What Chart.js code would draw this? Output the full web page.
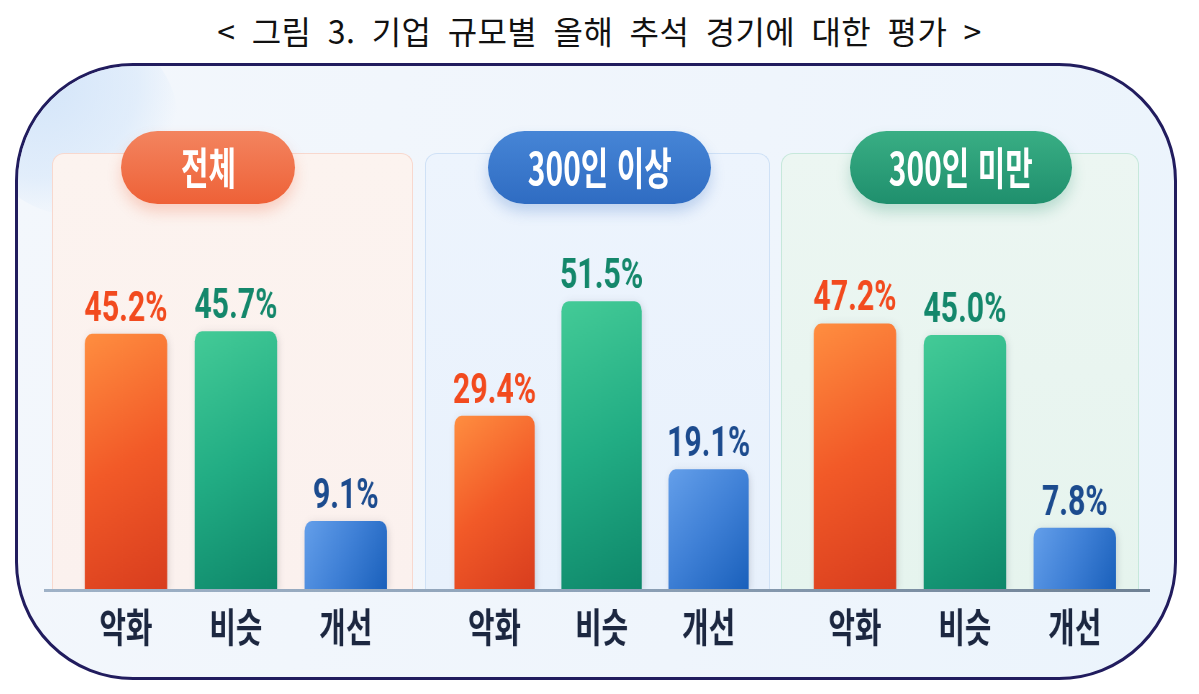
<!DOCTYPE html>
<html lang="ko">
<head>
<meta charset="utf-8">
<script src="https://cdn.jsdelivr.net/npm/chart.js@4.4.1/dist/chart.umd.min.js"></script>
<style>
  html,body{margin:0;padding:0;background:#fff;}
  body{width:1199px;height:694px;position:relative;overflow:hidden;font-family:"Noto Sans CJK KR","Noto Sans",sans-serif;}
  #title{position:absolute;left:0;top:5px;width:1199px;text-align:center;font-size:32px;font-weight:400;color:#111;word-spacing:7px;letter-spacing:0.4px;line-height:50px;}
  #box{position:absolute;left:15px;top:63px;width:1162px;height:617px;box-sizing:border-box;border:3px solid #211c5e;border-radius:118px;overflow:hidden;
       background:linear-gradient(100deg,#f3f7fc 0%,#eff5fc 60%,#ebf4fc 100%);}
  #deco{position:absolute;left:-40px;top:-40px;width:200px;height:190px;border-radius:50%;
        background:radial-gradient(ellipse at 30% 30%,rgba(208,227,249,0.9) 0%,rgba(214,231,250,0.6) 50%,rgba(235,243,252,0) 72%);}
  .panel{position:absolute;top:153px;height:437px;box-sizing:border-box;border:1.5px solid;border-bottom:none;border-radius:12px 12px 0 0;}
  #p1{left:52px;width:361px;background:linear-gradient(180deg,#fcf3ef,#fbf1ee);border-color:#f8d8ce;}
  #p2{left:425px;width:345px;background:linear-gradient(180deg,#edf4fd,#e8f1fc);border-color:#cfe1f6;}
  #p3{left:781px;width:358px;background:linear-gradient(180deg,#ecf6f2,#e6f4ee);border-color:#c6e8db;}
  .pill{position:absolute;top:131px;height:73px;border-radius:37px;display:flex;align-items:center;justify-content:center;color:#fff;font-size:44px;font-weight:700;z-index:3;}
  .pill span{display:inline-block;transform:scaleX(0.68);white-space:nowrap;line-height:1;margin-top:-4px;}
  #h1{left:121px;width:174px;background:linear-gradient(180deg,#f3845f,#ee6137);box-shadow:0 8px 14px rgba(238,100,60,0.25);}
  #h2{left:488px;width:223px;background:linear-gradient(180deg,#4685d6,#2f6cc2);box-shadow:0 8px 14px rgba(47,108,194,0.25);}
  #h3{left:850px;width:222px;background:linear-gradient(180deg,#39ae84,#1f8f6d);box-shadow:0 8px 14px rgba(31,143,109,0.25);}
  .cw{position:absolute;top:226px;height:439px;z-index:2;}
  .cw canvas{transform-origin:0 0;transform:scaleX(0.72);}
  #baseline{position:absolute;left:44px;top:589px;width:1106px;height:3px;background:linear-gradient(90deg,#9fb2c7,#8ea2b8 50%,#6f8194);z-index:4;}
</style>
</head>
<body>
<div id="title">&lt; 그림 3. 기업 규모별 올해 추석 경기에 대한 평가 &gt;</div>
<div id="box"><div id="deco"></div></div>
<div class="panel" id="p1"></div>
<div class="panel" id="p2"></div>
<div class="panel" id="p3"></div>
<div class="pill" id="h1"><span>전체</span></div>
<div class="pill" id="h2"><span>300인 이상</span></div>
<div class="pill" id="h3"><span>300인 미만</span></div>
<div class="cw" id="w1" style="left:71px;width:330px;"><canvas id="c1" width="458" height="439"></canvas></div>
<div class="cw" id="w2" style="left:441px;width:321px;"><canvas id="c2" width="446" height="439"></canvas></div>
<div class="cw" id="w3" style="left:800px;width:330px;"><canvas id="c3" width="458" height="439"></canvas></div>
<div id="baseline"></div>
<script>
// ---- data ----
const categories = ['악화', '비슷', '개선'];
const groupNames = ['전체', '300인 이상', '300인 미만'];
const totalValues = [45.2, 45.7, 9.1];
const over300Values = [29.4, 51.5, 19.1];
const under300Values = [47.2, 45.0, 7.8];

// ---- styles ----
const gradStops = [
  ['#ff8e40', '#f25a28', '#d83d1e'],
  ['#44cb97', '#22ad84', '#0e876a'],
  ['#649fea', '#3f80d6', '#1a60bb']
];
const labelColors = ['#f24a1e', '#14876b', '#1c4b8e'];
const Y_MIN = -4, Y_MAX = 66;

Chart.defaults.font.family = '"Noto Sans CJK KR","Noto Sans",sans-serif';

const valueLabels = {
  id: 'valueLabels',
  beforeDatasetsDraw(chart) {
    const ctx = chart.ctx;
    ctx.save();
    ctx.shadowColor = 'rgba(40,40,60,0.16)';
    ctx.shadowBlur = 10;
    ctx.shadowOffsetX = 2;
    ctx.shadowOffsetY = 2;
  },
  afterDatasetsDraw(chart) {
    const ctx = chart.ctx;
    ctx.restore();
    const meta = chart.getDatasetMeta(0);
    const vals = chart.data.datasets[0].data;
    meta.data.forEach((bar, i) => {
      ctx.save();
      ctx.font = '700 42px Roboto, "Noto Sans", sans-serif';
      ctx.fillStyle = labelColors[i];
      ctx.textAlign = 'center';
      ctx.textBaseline = 'alphabetic';
      ctx.fillText(vals[i].toFixed(1) + '%', bar.x, bar.y - 13);
      ctx.restore();
    });
  }
};

function barFill(context) {
  const chart = context.chart;
  const area = chart.chartArea;
  if (!area) return gradStops[context.dataIndex][1];
  const xs = chart.scales.x, ys = chart.scales.y;
  const cx = xs.getPixelForValue(context.dataIndex);
  const half = xs.width / categories.length * 0.75 / 2;
  const top = ys.getPixelForValue(context.raw);
  const bottom = ys.getPixelForValue(Y_MIN);
  const g = chart.ctx.createLinearGradient(cx - half, top, cx + half, bottom);
  const s = gradStops[context.dataIndex];
  g.addColorStop(0, s[0]);
  g.addColorStop(0.5, s[1]);
  g.addColorStop(1, s[2]);
  return g;
}

function makeChart(id, values, name) {
  return new Chart(document.getElementById(id), {
    type: 'bar',
    data: {
      labels: categories,
      datasets: [{
        label: name,
        data: values,
        base: Y_MIN,
        backgroundColor: barFill,
        borderRadius: 10,
        borderSkipped: 'start',
        barPercentage: 0.75,
        categoryPercentage: 1.0
      }]
    },
    options: {
      responsive: false,
      animation: false,
      layout: { padding: 0 },
      plugins: { legend: { display: false }, tooltip: { enabled: false }, title: { display: false } },
      scales: {
        x: {
          grid: { display: false, drawTicks: false },
          border: { display: false },
          ticks: { color: '#1c2740', padding: 14, font: { size: 40, weight: '600', lineHeight: 1.2 } }
        },
        y: { display: false, min: Y_MIN, max: Y_MAX }
      }
    },
    plugins: [valueLabels]
  });
}

makeChart('c1', totalValues, groupNames[0]);
makeChart('c2', over300Values, groupNames[1]);
makeChart('c3', under300Values, groupNames[2]);
</script>
</body>
</html>
